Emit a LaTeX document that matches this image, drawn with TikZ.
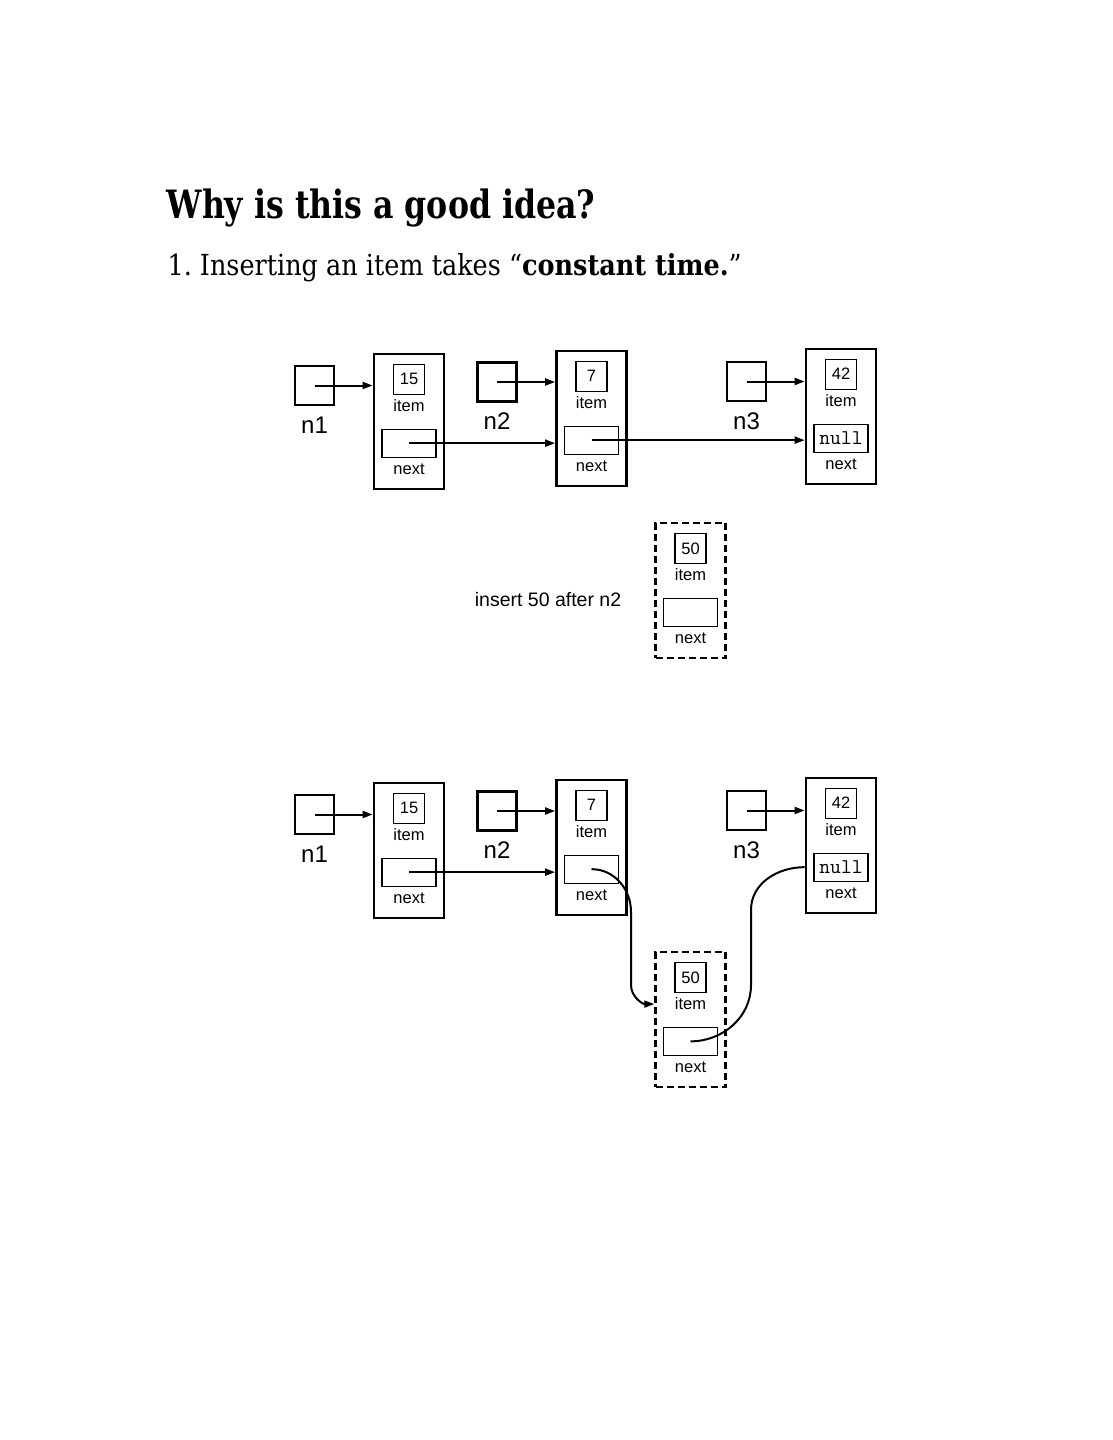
\documentclass[tikz,border=0pt]{standalone}
\usepackage{fontspec}
\setmainfont{DejaVu Serif}
\newfontfamily\headfont[FakeStretch=0.81]{DejaVu Serif}
\newfontfamily\bodyfont[FakeStretch=0.88]{DejaVu Serif}
\newfontfamily\diagfont{Liberation Sans}
\usetikzlibrary{arrows.meta,positioning}

\begin{document}
\begin{tikzpicture}[
    x=1pt,y=-1pt,
    cell/.style={draw,line width=2.8pt,minimum width=70pt,minimum height=135pt,inner sep=0pt},
    newcell/.style={cell,line width=2.4pt,dash pattern=on 7pt off 4pt},
    ptr/.style={draw,line width=2.8pt,minimum size=39pt,inner sep=0pt},
    valbox/.style={draw,line width=1.1pt,minimum width=31pt,minimum height=30pt,inner sep=0pt,font=\diagfont\fontsize{16.5}{18}\selectfont},
    nextbox/.style={draw,line width=1.1pt,minimum width=54pt,minimum height=28pt,inner sep=0pt,font=\ttfamily\fontsize{21}{22}\selectfont},
    lbl/.style={inner sep=0pt,font=\diagfont\fontsize{16.5}{18}\selectfont},
    varname/.style={inner sep=0pt,font=\diagfont\fontsize{24}{26}\selectfont},
    arr/.style={-{Triangle[length=10pt,width=7pt]},line width=2pt},
    link/.style={line width=2pt}
]
\useasboundingbox (0,0) rectangle (1113,1440);

\node[anchor=base west,font=\headfont\bfseries\fontsize{39}{41}\selectfont] (title) at (163,218) {Why is this a good idea?};
\node[anchor=base west,font=\bodyfont\fontsize{29}{31}\selectfont] (point) at (164,275) {1.\ Inserting an item takes “\textbf{constant time.}”};

% before the insert
\node[ptr] (p1) at (314.5,385.5) {};
\node[varname,below=10pt of p1] (p1l) {n1};
\node[ptr] (p2) at (497,382) {};
\node[varname,below=10pt of p2] (p2l) {n2};
\node[ptr] (p3) at (746.5,381.5) {};
\node[varname,below=10pt of p3] (p3l) {n3};

\node[cell] (a1) at (409,421.5) {};
\node[valbox,below=11pt of a1.north] (a1v) {15};
\node[lbl,below=47pt of a1.north] (a1i) {item};
\node[nextbox,below=76pt of a1.north] (a1n) {};
\node[lbl,below=111pt of a1.north] (a1t) {next};

\node[cell] (a2) at (591.5,418.5) {};
\node[valbox,below=11pt of a2.north] (a2v) {7};
\node[lbl,below=47pt of a2.north] (a2i) {item};
\node[nextbox,below=76pt of a2.north] (a2n) {};
\node[lbl,below=111pt of a2.north] (a2t) {next};

\node[cell] (a3) at (841,416.5) {};
\node[valbox,below=11pt of a3.north] (a3v) {42};
\node[lbl,below=47pt of a3.north] (a3i) {item};
\node[nextbox,below=76pt of a3.north] (a3n) {null};
\node[lbl,below=111pt of a3.north] (a3t) {next};

\draw[arr] (p1.center) -- (p1.center -| a1.west);
\draw[arr] (p2.center) -- (p2.center -| a2.west);
\draw[arr] (p3.center) -- (p3.center -| a3.west);
\draw[arr] (a1n.center) -- (a1n.center -| a2.west);
\draw[arr] (a2n.center) -- (a2n.center -| a3.west);

% the new item
\node[newcell] (a4) at (690.5,590.5) {};
\node[valbox,below=11pt of a4.north] (a4v) {50};
\node[lbl,below=47pt of a4.north] (a4i) {item};
\node[nextbox,below=76pt of a4.north] (a4n) {};
\node[lbl,below=111pt of a4.north] (a4t) {next};
\node[font=\diagfont\fontsize{19.5}{21}\selectfont] (msg) at (548,600) {insert 50 after n2};

% after the insert
\node[ptr] (q1) at (314.5,814.5) {};
\node[varname,below=10pt of q1] (q1l) {n1};
\node[ptr] (q2) at (497,811) {};
\node[varname,below=10pt of q2] (q2l) {n2};
\node[ptr] (q3) at (746.5,810.5) {};
\node[varname,below=10pt of q3] (q3l) {n3};

\node[cell] (b1) at (409,850.5) {};
\node[valbox,below=11pt of b1.north] (b1v) {15};
\node[lbl,below=47pt of b1.north] (b1i) {item};
\node[nextbox,below=76pt of b1.north] (b1n) {};
\node[lbl,below=111pt of b1.north] (b1t) {next};

\node[cell] (b2) at (591.5,847.5) {};
\node[valbox,below=11pt of b2.north] (b2v) {7};
\node[lbl,below=47pt of b2.north] (b2i) {item};
\node[nextbox,below=76pt of b2.north] (b2n) {};
\node[lbl,below=111pt of b2.north] (b2t) {next};

\node[cell] (b3) at (841,845.5) {};
\node[valbox,below=11pt of b3.north] (b3v) {42};
\node[lbl,below=47pt of b3.north] (b3i) {item};
\node[nextbox,below=76pt of b3.north] (b3n) {null};
\node[lbl,below=111pt of b3.north] (b3t) {next};

\node[newcell] (b4) at (690.5,1019.5) {};
\node[valbox,below=11pt of b4.north] (b4v) {50};
\node[lbl,below=47pt of b4.north] (b4i) {item};
\node[nextbox,below=76pt of b4.north] (b4n) {};
\node[lbl,below=111pt of b4.north] (b4t) {next};

\draw[arr] (q1.center) -- (q1.center -| b1.west);
\draw[arr] (q2.center) -- (q2.center -| b2.west);
\draw[arr] (q3.center) -- (q3.center -| b3.west);
\draw[arr] (b1n.center) -- (b1n.center -| b2.west);
\draw[arr] (b2n.center) to[out=0,in=90] (631,912) -- (631,985) to[out=-90,in=180] (b4.west |- b4i);
\draw[link] (b4n.center) to[out=0,in=-90] (751,985) -- (751,910) to[out=90,in=180] (b3.west |- b3n);
\end{tikzpicture}
\end{document}
